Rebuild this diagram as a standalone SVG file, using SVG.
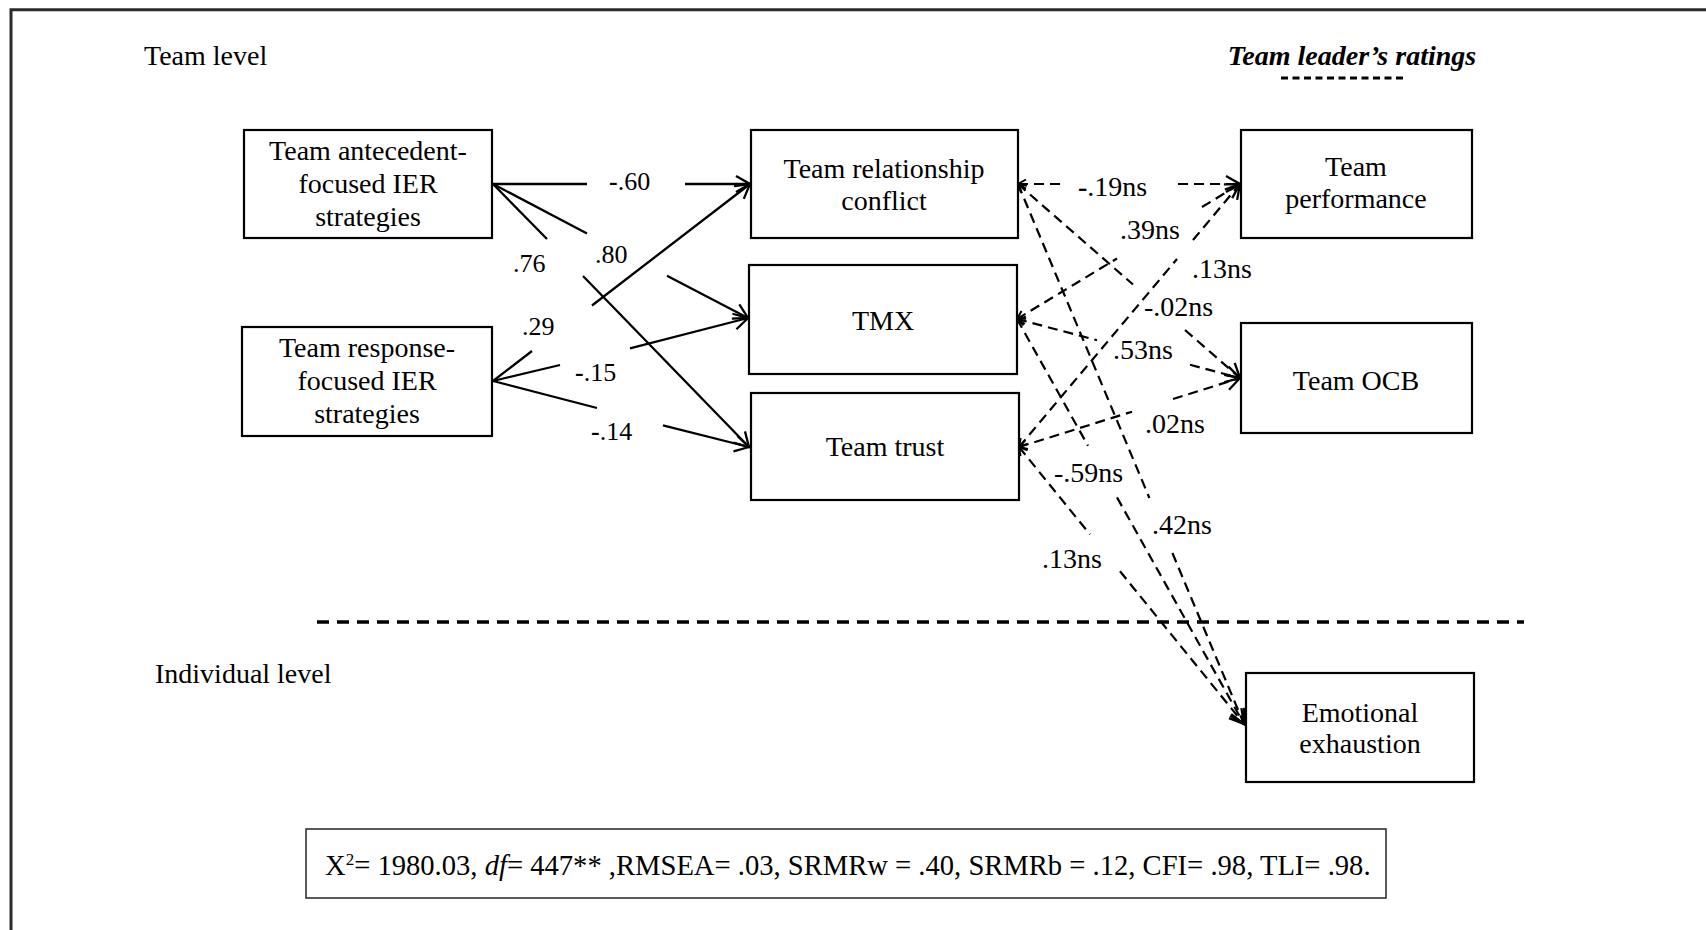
<svg xmlns="http://www.w3.org/2000/svg" width="1706" height="930" viewBox="0 0 1706 930">
  <style>
    text { font-family: "Liberation Serif", "Times New Roman", serif; fill: #000; }
    .node rect { fill: #fff; stroke: #000; stroke-width: 2.2; }
    .node text { font-size: 28px; text-anchor: middle; }
    .lvl { font-size: 28px; }
    .solid { fill: none; stroke: #000; stroke-width: 2.3; }
    .dash { fill: none; stroke: #000; stroke-width: 2.2; stroke-dasharray: 10 6; }
    .lab { font-size: 26px; }
    .labd { font-size: 28px; }
  </style>
  <defs>
    <marker id="head" viewBox="0 0 18 20" refX="16" refY="10" markerWidth="18" markerHeight="20" markerUnits="userSpaceOnUse" orient="auto">
      <path d="M2,2 L16,10 L2,18" fill="none" stroke="#000" stroke-width="2.3" stroke-dasharray="none" stroke-linejoin="miter"/>
    </marker>
    <marker id="tail" viewBox="0 0 12 12" refX="10" refY="6" markerWidth="12" markerHeight="12" markerUnits="userSpaceOnUse" orient="auto-start-reverse">
      <path d="M2,1.5 L10,6 L2,10.5" fill="none" stroke="#000" stroke-width="2" stroke-dasharray="none"/>
    </marker>
  </defs>

  <rect width="1706" height="930" fill="#fff"/>
  <!-- frame: only top and left edges are visible -->
  <path d="M11,930 V9.7 H1706" fill="none" stroke="#2a2a2a" stroke-width="3"/>

  <!-- level captions -->
  <text class="lvl" x="144" y="65">Team level</text>
  <text class="lvl" x="155" y="683">Individual level</text>
  <text x="1352" y="65" font-size="28" font-weight="bold" font-style="italic" text-anchor="middle">Team leader’s ratings</text>
  <path d="M1281,78 H1407" stroke="#000" stroke-width="3" stroke-dasharray="7 4.5"/>

  <!-- level separator -->
  <path d="M317,622 H1524" stroke="#000" stroke-width="3.5" stroke-dasharray="12 8"/>

  <!-- connectors -->
  <g id="connectors">
    <!-- predictors to mediators -->
    <path class="solid" d="M493,184 H587 M685,184 H750" marker-end="url(#head)"/>
    <path class="solid" d="M493,184 L587,233.5 M667,275.7 L748,318" marker-end="url(#head)"/>
    <path class="solid" d="M493,184 L547,239 M583,276 L749,447" marker-end="url(#head)"/>
    <path class="solid" d="M493,381 L532,351 M592,305.5 L750,184" marker-end="url(#head)"/>
    <path class="solid" d="M493,381 L560,365 M630,348.4 L748,318" marker-end="url(#head)"/>
    <path class="solid" d="M493,381 L597,408 M663,425.3 L749,447" marker-end="url(#head)"/>

    <!-- mediators to outcomes -->
    <path class="dash" d="M1018,184 H1065 M1178,184 H1240" marker-start="url(#tail)" marker-end="url(#head)"/>
    <path class="dash" d="M1018,184 L1133,284.5 M1185,330 L1240,378" marker-start="url(#tail)" marker-end="url(#head)"/>
    <path class="dash" d="M1018,184 L1149.4,498 M1172.4,553 L1244,724" marker-start="url(#tail)" marker-end="url(#head)"/>
    <path class="dash" d="M1017,319 L1117,258.5 M1202,207 L1240,184" marker-start="url(#tail)" marker-end="url(#head)"/>
    <path class="dash" d="M1017,319 L1097,340.2 M1190,364.8 L1240,378" marker-start="url(#tail)" marker-end="url(#head)"/>
    <path class="dash" d="M1017,319 L1088,445.7 M1117,497.4 L1244,724" marker-start="url(#tail)" marker-end="url(#head)"/>
    <path class="dash" d="M1019,447 L1177,259 M1193,240 L1240,184" marker-start="url(#tail)" marker-end="url(#head)"/>
    <path class="dash" d="M1019,447 L1132,411.7 M1173,399 L1240,378" marker-start="url(#tail)" marker-end="url(#head)"/>
    <path class="dash" d="M1019,447 L1090,534.4 M1120,571.3 L1244,724" marker-start="url(#tail)" marker-end="url(#head)"/>

    <!-- path coefficients -->
    <text class="lab" x="609" y="190"><tspan font-weight="bold">-</tspan>.60</text>
    <text class="lab" x="595" y="263">.80</text>
    <text class="lab" x="513" y="272">.76</text>
    <text class="lab" x="522" y="335">.29</text>
    <text class="lab" x="575" y="381"><tspan font-weight="bold">-</tspan>.15</text>
    <text class="lab" x="591" y="440"><tspan font-weight="bold">-</tspan>.14</text>

    <text class="labd" x="1078" y="196"><tspan font-weight="bold">-</tspan>.19ns</text>
    <text class="labd" x="1120" y="239">.39ns</text>
    <text class="labd" x="1192" y="278">.13ns</text>
    <text class="labd" x="1144" y="316">-.02ns</text>
    <text class="labd" x="1113" y="359">.53ns</text>
    <text class="labd" x="1145" y="433">.02ns</text>
    <text class="labd" x="1054" y="482">-.59ns</text>
    <text class="labd" x="1152" y="534">.42ns</text>
    <text class="labd" x="1042" y="568">.13ns</text>
  </g>

  <!-- predictors -->
  <g id="antecedent" class="node">
    <rect x="244" y="130" width="248" height="108"/>
    <text x="368" y="160">Team antecedent-</text>
    <text x="368" y="193">focused IER</text>
    <text x="368" y="226">strategies</text>
  </g>
  <g id="response" class="node">
    <rect x="242" y="327" width="250" height="109"/>
    <text x="367" y="357">Team response-</text>
    <text x="367" y="390">focused IER</text>
    <text x="367" y="423">strategies</text>
  </g>

  <!-- mediators -->
  <g id="relationship-conflict" class="node">
    <rect x="751" y="130" width="267" height="108"/>
    <text x="884" y="178">Team relationship</text>
    <text x="884" y="210">conflict</text>
  </g>
  <g id="tmx" class="node">
    <rect x="749" y="265" width="268" height="109"/>
    <text x="883" y="330">TMX</text>
  </g>
  <g id="team-trust" class="node">
    <rect x="751" y="393" width="268" height="107"/>
    <text x="885" y="456">Team trust</text>
  </g>

  <!-- outcomes -->
  <g id="team-performance" class="node">
    <rect x="1241" y="130" width="231" height="108"/>
    <text x="1356" y="176">Team</text>
    <text x="1356" y="208">performance</text>
  </g>
  <g id="team-ocb" class="node">
    <rect x="1241" y="323" width="231" height="110"/>
    <text x="1356" y="390">Team OCB</text>
  </g>
  <g id="emotional-exhaustion" class="node">
    <rect x="1246" y="673" width="228" height="109"/>
    <text x="1360" y="722">Emotional</text>
    <text x="1360" y="753">exhaustion</text>
  </g>

  <!-- model fit -->
  <g id="fit">
    <rect x="306" y="829" width="1080" height="69" fill="#fff" stroke="#333" stroke-width="1.6"/>
    <text x="325" y="875" font-size="28.6">X<tspan font-size="17" dy="-10">2</tspan><tspan dy="10">= 1980.03, </tspan><tspan font-style="italic">df</tspan>= 447** ,RMSEA= .03, SRMRw = .40, SRMRb = .12, CFI= .98, TLI= .98.</text>
  </g>
</svg>
